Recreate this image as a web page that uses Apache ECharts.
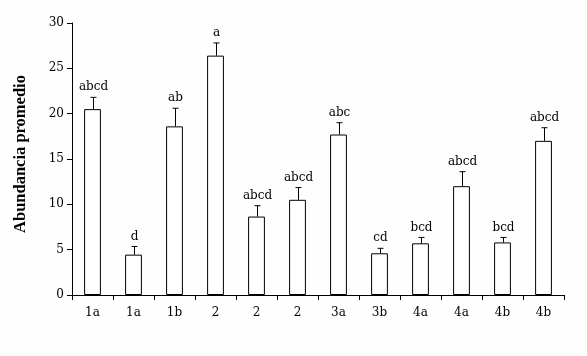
<!DOCTYPE html>
<html>
<head>
<meta charset="utf-8">
<script src="https://cdn.jsdelivr.net/npm/echarts@6/dist/echarts.min.js"></script>
<style>html,body{margin:0;padding:0;background:#fff;}#c{width:587px;height:356px;}</style>
</head>
<body>
<div id="c"></div>
<script>
var categories = ['1a','1a','1b','2','2','2','3a','3b','4a','4a','4b','4b'];
var means = [20.5, 4.45, 18.6, 26.4, 8.65, 10.5, 17.7, 4.6, 5.7, 12.0, 5.8, 17.0];
var errTops = [21.8, 5.35, 20.6, 27.8, 9.85, 11.85, 19.0, 5.15, 6.35, 13.6, 6.35, 18.45];
var letters = ['abcd','d','ab','a','abcd','abcd','abc','cd','bcd','abcd','bcd','abcd'];
var yTicks = [0, 5, 10, 15, 20, 25, 30];

var chart = echarts.init(document.getElementById('c'), null, {renderer: 'canvas'});
var serif = 'DejaVu Serif';
chart.setOption({
  backgroundColor: '#fefefe',
  animation: false,
  grid: {left: 72, right: 23, top: 23, bottom: 61},
  xAxis: {
    type: 'category',
    data: categories,
    axisLine: {lineStyle: {color: '#000', width: 1}},
    axisTick: {show: true, length: 5, lineStyle: {color: '#000'}},
    axisLabel: {color: '#000', fontFamily: serif, fontSize: 12, margin: 12}
  },
  yAxis: {
    type: 'value',
    min: yTicks[0], max: yTicks[yTicks.length - 1], interval: 5,
    name: 'Abundancia promedio',
    nameLocation: 'middle',
    nameGap: 43,
    nameTextStyle: {fontFamily: 'Liberation Serif', fontWeight: 'bold', fontSize: 16.5, color: '#000', padding: [0, 0, 0, 10]},
    axisLine: {show: true, lineStyle: {color: '#000', width: 1}},
    axisTick: {show: true, length: 5, lineStyle: {color: '#000'}},
    axisLabel: {color: '#000', fontFamily: serif, fontSize: 12, margin: 8},
    splitLine: {show: false}
  },
  series: [
    {
      type: 'bar',
      data: means,
      barWidth: '41%',
      itemStyle: {color: '#fff', borderColor: '#000', borderWidth: 1}
    },
    {
      type: 'custom',
      data: errTops.map(function (v, i) { return [i, means[i], v]; }),
      encode: {x: 0, y: [1, 2]},
      renderItem: function (params, api) {
        var i = api.value(0);
        var base = api.coord([i, api.value(1)]);
        var top = api.coord([i, api.value(2)]);
        var x = Math.round(base[0]) + 0.5;
        return {
          type: 'group',
          children: [
            {type: 'line', shape: {x1: x, y1: base[1], x2: x, y2: top[1]}, style: {stroke: '#000', lineWidth: 1}},
            {type: 'line', shape: {x1: x - 3, y1: top[1], x2: x + 3, y2: top[1]}, style: {stroke: '#000', lineWidth: 1}},
            {type: 'text', x: x, y: top[1] - 4, style: {text: letters[params.dataIndex], fill: '#000', font: '12px "DejaVu Serif"', align: 'center', verticalAlign: 'bottom'}}
          ]
        };
      },
      z: 5
    }
  ]
});
</script>
</body>
</html>
